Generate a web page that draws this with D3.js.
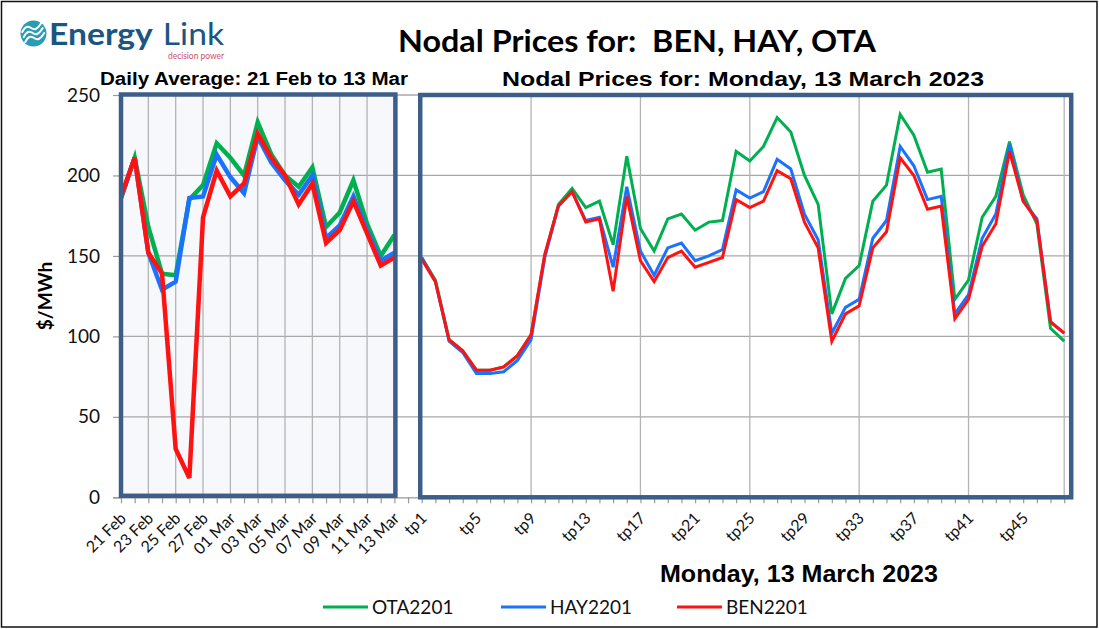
<!DOCTYPE html>
<html><head><meta charset="utf-8">
<script src="https://cdn.jsdelivr.net/npm/d3@7"></script>
<style>body{margin:0;background:#fff}</style>
</head><body><svg id="c" width="1099" height="629"></svg>
<script>
// ---- data ----
const days = ["21 Feb","22 Feb","23 Feb","24 Feb","25 Feb","26 Feb","27 Feb","28 Feb","01 Mar","02 Mar","03 Mar","04 Mar","05 Mar","06 Mar","07 Mar","08 Mar","09 Mar","10 Mar","11 Mar","12 Mar","13 Mar"];
const otaDaily = [186,211,168,139,138,185,194,220,211,200,233,213,200,193,205,168,177,197,170,150,163];
const hayDaily = [186,211,152,129,134,186,187,213,199,189,224,208,197,188,200,161,169,187,166,147,152];
const benDaily = [187,211,152,139,30,12,174,203,187,195,226,211,200,182,195,158,166,184,164,144,149];
const periods = ["tp1","tp2","tp3","tp4","tp5","tp6","tp7","tp8","tp9","tp10","tp11","tp12","tp13","tp14","tp15","tp16","tp17","tp18","tp19","tp20","tp21","tp22","tp23","tp24","tp25","tp26","tp27","tp28","tp29","tp30","tp31","tp32","tp33","tp34","tp35","tp36","tp37","tp38","tp39","tp40","tp41","tp42","tp43","tp44","tp45","tp46","tp47","tp48"];
const otaTP = [149,135,98,91,79,79,81,88,101,150,182,192,180,184,157,212,167,153,173,176,166,171,172,215,209,218,236,227,200,182,114,136,144,184,194,238,225,202,204,123,135,174,187,221,188,170,105,97];
const hayTP = [149,134,97,90,77,77,78,85,98,149,181,190,172,174,143,193,153,138,155,158,147,150,154,191,186,190,210,204,176,160,102,118,123,161,172,218,206,185,187,114,126,161,176,219,184,173,109,102];
const benTP = [148,134,98,91,79,79,81,88,101,151,181,190,171,173,128,187,147,134,149,153,143,146,149,185,180,184,203,198,171,155,97,114,119,155,165,211,200,179,181,111,123,156,170,215,184,172,109,102];
const yTicks = [0,50,100,150,200,250];
const dayLabelEvery = 2, tpLabelEvery = 4;
const seriesNames = ["OTA2201","HAY2201","BEN2201"];
const seriesColors = ["#00b050","#1a72ff","#ff1212"];

// ---- chart ----
const svg = d3.select("#c");
const gap = " ";
const categories = days.concat([gap], periods);
const x = d3.scalePoint().domain(categories).range([121, 1064.2]);
const y = d3.scaleLinear().domain([0, 250]).range([497.3, 95]);

svg.append("rect").attr("x",1.5).attr("y",1.5).attr("width",1095.5).attr("height",625.5)
  .attr("fill","#fff").attr("stroke","#111").attr("stroke-width",1.5);

const leftX0 = x(days[0]), leftX1 = x(days[days.length-1]) + 1;
const rightX0 = x(periods[0]) - 1.5, rightX1 = x(periods[periods.length-1]) + 7;

// left panel background
svg.append("rect").attr("x",leftX0).attr("y",y(250)).attr("width",leftX1-leftX0).attr("height",y(0)-y(250))
  .attr("fill","#f6f8fc");

// horizontal gridlines
svg.append("g").selectAll("line").data(yTicks.filter(v=>v>0)).join("line")
  .attr("x1",leftX0).attr("x2",rightX1).attr("y1",d=>y(d)).attr("y2",d=>y(d))
  .attr("stroke","#a8a8a8").attr("stroke-width",1.3);

// vertical gridlines
const vGrid = days.filter((d,i)=>i>0 && i%2===0)
  .concat(periods.filter((d,i)=>i>0 && i%8===0), [periods[periods.length-1]]);
svg.append("g").selectAll("line").data(vGrid).join("line")
  .attr("x1",d=>x(d)).attr("x2",d=>x(d)).attr("y1",y(250)).attr("y2",y(0))
  .attr("stroke","#b4b4b4").attr("stroke-width",1.3);

// axes
svg.append("line").attr("x1",113).attr("x2",rightX1).attr("y1",y(0)+0.5).attr("y2",y(0)+0.5)
  .attr("stroke","#999").attr("stroke-width",1.3);
const xAxis = d3.axisBottom(x).tickSize(6).tickSizeOuter(0).tickFormat("");
const gx = svg.append("g").attr("transform",`translate(0,${y(0)})`).call(xAxis);
gx.select(".domain").remove();
gx.selectAll(".tick line").attr("stroke","#999").attr("stroke-width",1.2);

const labeled = days.filter((d,i)=>i%dayLabelEvery===0).concat(periods.filter((d,i)=>i%tpLabelEvery===0));
svg.append("g").selectAll("text").data(labeled).join("text")
  .attr("transform",d=>`translate(${x(d)+6},${y(0)+22}) rotate(-45)`)
  .attr("text-anchor","end")
  .attr("font-family","Lato, 'Open Sans', sans-serif").attr("font-size",16).attr("fill","#111")
  .text(d=>d);

const yAxis = d3.axisLeft(y).tickValues(yTicks).tickSize(8).tickPadding(13);
const gy = svg.append("g").attr("transform",`translate(${leftX0},0)`).call(yAxis);
gy.select(".domain").remove();
gy.selectAll(".tick line").attr("stroke","#999").attr("stroke-width",1.2);
gy.selectAll(".tick text").attr("font-family","Lato, 'Open Sans', sans-serif").attr("font-size",19).attr("fill","#111");

svg.append("text").attr("transform","translate(52,296) rotate(-90)").attr("text-anchor","middle")
  .attr("font-family","Lato, 'Open Sans', sans-serif").attr("font-weight","bold").attr("font-size",19)
  .text("$/MWh");

// lines
const dailySeries = [otaDaily, hayDaily, benDaily];
const tpSeries = [otaTP, hayTP, benTP];
const lineDay = d3.line().x((d,i)=>x(days[i])).y(d=>y(d));
const lineTp = d3.line().x((d,i)=>x(periods[i])).y(d=>y(d));
dailySeries.forEach((s,k)=>{
  svg.append("path").attr("d",lineDay(s)).attr("fill","none").attr("stroke",seriesColors[k])
    .attr("stroke-width",4.5).attr("stroke-linejoin","miter");
});
tpSeries.forEach((s,k)=>{
  svg.append("path").attr("d",lineTp(s)).attr("fill","none").attr("stroke",seriesColors[k])
    .attr("stroke-width",3).attr("stroke-linejoin","miter");
});

// panel borders
svg.append("rect").attr("x",leftX0).attr("y",y(250)-0.5).attr("width",leftX1-leftX0).attr("height",y(0)-y(250)-1)
  .attr("fill","none").attr("stroke","#3e5e8a").attr("stroke-width",4.5);
svg.append("rect").attr("x",rightX0).attr("y",y(250)).attr("width",rightX1-rightX0).attr("height",y(0)-y(250))
  .attr("fill","none").attr("stroke","#3e5e8a").attr("stroke-width",4.5);

// titles
svg.append("text").attr("x",398).attr("y",52)
  .attr("font-family","Lato, 'Open Sans', sans-serif").attr("font-weight","bold").attr("font-size",31)
  .attr("textLength",478).attr("lengthAdjust","spacingAndGlyphs")
  .attr("xml:space","preserve").text("Nodal Prices for:  BEN, HAY, OTA");
svg.append("text").attr("x",100).attr("y",85)
  .attr("font-family","'Liberation Sans', Arial, sans-serif").attr("font-weight","bold").attr("font-size",18)
  .attr("textLength",308).attr("lengthAdjust","spacingAndGlyphs")
  .text("Daily Average: 21 Feb to 13 Mar");
svg.append("text").attr("x",502).attr("y",86)
  .attr("font-family","'Liberation Sans Narrow', 'Arial Narrow', 'Liberation Sans', sans-serif").attr("font-weight","bold").attr("font-size",19.5)
  .attr("textLength",482).attr("lengthAdjust","spacingAndGlyphs")
  .text("Nodal Prices for: Monday, 13 March 2023");
svg.append("text").attr("x",660).attr("y",582)
  .attr("font-family","'Liberation Sans Narrow', 'Arial Narrow', 'Liberation Sans', sans-serif").attr("font-weight","bold").attr("font-size",24)
  .attr("textLength",278).attr("lengthAdjust","spacingAndGlyphs")
  .text("Monday, 13 March 2023");

// legend
const legX = [323, 501, 677];
const lg = svg.append("g").selectAll("g").data(seriesNames).join("g")
  .attr("transform",(d,i)=>`translate(${legX[i]},607)`);
lg.append("line").attr("x1",0).attr("x2",45).attr("stroke",(d,i)=>seriesColors[i]).attr("stroke-width",3);
lg.append("text").attr("x",49).attr("y",7).attr("font-family","Lato, 'Open Sans', sans-serif").attr("font-size",19)
  .attr("fill","#111").text(d=>d);

// logo
const logo = svg.append("g");
logo.append("circle").attr("cx",33.5).attr("cy",33.5).attr("r",13).attr("fill","#2a9cb4");
[-6,-1,4].forEach(o=>{
  logo.append("path").attr("d",`M${24+o*0.3},${38+o} q4,-8 9,-4 q5,4 10,-5`).attr("fill","none")
    .attr("stroke","#fff").attr("stroke-width",2).attr("stroke-linecap","round");
});
logo.append("text").attr("x",49).attr("y",45).attr("font-family","Lato, 'Open Sans', sans-serif")
  .attr("font-size",30).attr("fill","#1a5680")
  .attr("textLength",175).attr("lengthAdjust","spacingAndGlyphs")
  .call(t=>{ t.append("tspan").attr("font-weight","bold").text("Energy");
             t.append("tspan").attr("dx",9).text("Link"); });
logo.append("text").attr("x",168).attr("y",59).attr("font-family","Lato, 'Open Sans', sans-serif")
  .attr("font-size",9).attr("fill","#c9526a")
  .attr("textLength",56).attr("lengthAdjust","spacingAndGlyphs").text("decision power");
</script>
</body></html>
